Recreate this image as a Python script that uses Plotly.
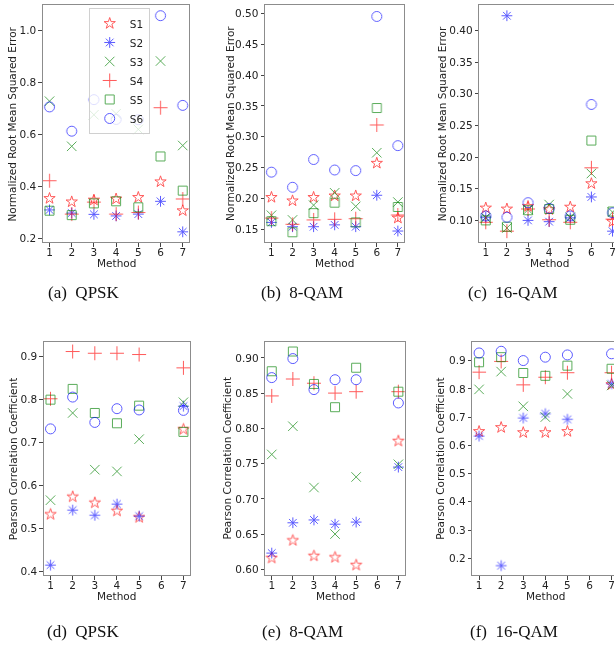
import plotly.graph_objects as go

W, H = 616, 657

methods = [1, 2, 3, 4, 5, 6, 7]
series_names = ["S1", "S2", "S3", "S4", "S5", "S6"]

# Normalized RMSE, rows = S1..S6, columns = methods 1..7
nrmse_qpsk = [
    [0.354, 0.341, 0.348, 0.352, 0.358, 0.418, 0.307],
    [0.310, 0.298, 0.293, 0.287, 0.294, 0.343, 0.226],
    [0.727, 0.554, 0.675, 0.679, 0.619, 0.881, 0.557],
    [0.422, 0.294, 0.340, 0.294, 0.300, 0.702, 0.352],
    [0.307, 0.290, 0.335, 0.343, 0.320, 0.515, 0.384],
    [0.705, 0.612, 0.733, 0.657, 0.656, 1.055, 0.711],
]
nrmse_8qam = [
    [0.2016, 0.196, 0.2016, 0.204, 0.204, 0.257, 0.168],
    [0.161, 0.154, 0.154, 0.157, 0.154, 0.205, 0.147],
    [0.1726, 0.165, 0.189, 0.209, 0.187, 0.274, 0.194],
    [0.168, 0.158, 0.165, 0.166, 0.167, 0.319, 0.173],
    [0.163, 0.145, 0.176, 0.193, 0.161, 0.3465, 0.186],
    [0.2425, 0.218, 0.263, 0.246, 0.245, 0.495, 0.2855],
]
nrmse_16qam = [
    [0.1196, 0.118, 0.122, 0.117, 0.121, 0.158, 0.098],
    [0.105, 0.423, 0.100, 0.098, 0.104, 0.137, 0.083],
    [0.104, 0.088, 0.117, 0.125, 0.105, 0.174, 0.113],
    [0.097, 0.083, 0.118, 0.101, 0.097, 0.183, 0.102],
    [0.100, 0.090, 0.116, 0.118, 0.101, 0.226, 0.114],
    [0.107, 0.105, 0.128, 0.119, 0.107, 0.283, 0.112],
]
# Pearson correlation coefficient (method 6 has no value)
pcc_qpsk = [
    [0.533, 0.574, 0.560, 0.541, 0.526, None, 0.731],
    [0.415, 0.543, 0.531, 0.557, 0.529, None, 0.785],
    [0.566, 0.769, 0.637, 0.633, 0.708, None, 0.794],
    [0.802, 0.912, 0.908, 0.908, 0.905, None, 0.874],
    [0.800, 0.825, 0.769, 0.745, 0.786, None, 0.725],
    [0.732, 0.806, 0.747, 0.779, 0.776, None, 0.775],
]
pcc_8qam = [
    [0.616, 0.641, 0.619, 0.617, 0.606, None, 0.782],
    [0.623, 0.666, 0.670, 0.664, 0.667, None, 0.745],
    [0.763, 0.803, 0.716, 0.650, 0.731, None, 0.749],
    [0.846, 0.870, 0.864, 0.850, 0.852, None, 0.852],
    [0.881, 0.909, 0.863, 0.830, 0.886, None, 0.852],
    [0.872, 0.899, 0.855, 0.869, 0.869, None, 0.836],
]
pcc_16qam = [
    [0.649, 0.663, 0.645, 0.645, 0.649, None, 0.815],
    [0.633, 0.174, 0.697, 0.712, 0.692, None, 0.818],
    [0.798, 0.861, 0.738, 0.700, 0.782, None, 0.812],
    [0.859, 0.897, 0.814, 0.841, 0.857, None, 0.857],
    [0.894, 0.912, 0.856, 0.846, 0.882, None, 0.871],
    [0.927, 0.933, 0.900, 0.912, 0.920, None, 0.924],
]

captions = ["(a)\u2002QPSK", "(b)\u20028-QAM", "(c)\u200216-QAM",
            "(d)\u2002QPSK", "(e)\u20028-QAM", "(f)\u200216-QAM"]
ylabel_nrmse = "Normalized Root Mean Squared Error"
ylabel_pcc = "Pearson Correlation Coefficient"

# marker style per series
symbols = ["star-open", "asterisk-open", "x-thin-open", "cross-thin-open",
           "square-open", "circle-open"]
colors = ["#ff0000", "#0000ff", "#008000", "#ff0000", "#008000", "#0000ff"]
sizes = [8.5, 9, 9.5, 10, 9, 10]

# panel geometry in pixels: (left, right, top, bottom), x range, y range, y ticks
panels = [
    dict(data=nrmse_qpsk, px=(43, 190, 5, 243), xr=[0.7, 7.3], yr=[0.186, 1.096],
         yt=[0.2, 0.4, 0.6, 0.8, 1.0], fmt="{:.1f}", ylab=ylabel_nrmse, ylx=12),
    dict(data=nrmse_8qam, px=(266, 405.5, 5, 243), xr=[0.7, 7.3], yr=[0.1288, 0.5136],
         yt=[0.15, 0.20, 0.25, 0.30, 0.35, 0.40, 0.45, 0.50], fmt="{:.2f}", ylab=ylabel_nrmse, ylx=230),
    dict(data=nrmse_16qam, px=(481, 616, 5, 243), xr=[0.7, 7.07], yr=[0.0655, 0.44],
         yt=[0.10, 0.15, 0.20, 0.25, 0.30, 0.35, 0.40], fmt="{:.2f}", ylab=ylabel_nrmse, ylx=443),
    dict(data=pcc_qpsk, px=(44, 190.7, 342.7, 576.7), xr=[0.7, 7.3], yr=[0.392, 0.935],
         yt=[0.4, 0.5, 0.6, 0.7, 0.8, 0.9], fmt="{:.1f}", ylab=ylabel_pcc, ylx=13),
    dict(data=pcc_8qam, px=(266.3, 406, 342.7, 576.7), xr=[0.7, 7.3], yr=[0.592, 0.923],
         yt=[0.60, 0.65, 0.70, 0.75, 0.80, 0.85, 0.90], fmt="{:.2f}", ylab=ylabel_pcc, ylx=228),
    dict(data=pcc_16qam, px=(474, 616, 342.7, 576.7), xr=[0.7, 7.11], yr=[0.141, 0.967],
         yt=[0.2, 0.3, 0.4, 0.5, 0.6, 0.7, 0.8, 0.9], fmt="{:.1f}", ylab=ylabel_pcc, ylx=442),
]
caption_pos = [(84, 293), (303, 293), (515, 293), (84, 633), (303, 633), (516, 633)]

tick_font = dict(family="DejaVu Sans", size=10.5, color="#222222")
label_font = dict(family="DejaVu Sans", size=10.5, color="#222222")
frame = "#8c8c8c"

fig = go.Figure()
layout = dict(width=W, height=H, margin=dict(l=0, r=0, t=0, b=0),
              paper_bgcolor="white", plot_bgcolor="white", showlegend=True)
annotations = []

for i, p in enumerate(panels):
    k = "" if i == 0 else str(i + 1)
    l, r, t, b = p["px"]
    clipped = r >= W
    layout["xaxis" + k] = dict(
        domain=[l / W, min(r / W, 1.0)], range=p["xr"], anchor="y" + k,
        tickvals=methods, ticktext=[str(m) for m in methods],
        showgrid=False, zeroline=False, showline=True, linecolor=frame, linewidth=1.2,
        mirror=True, ticks="outside", ticklen=3.5, tickcolor="#444444", tickwidth=1,
        tickfont=tick_font, ticklabelstandoff=-3, ticklabeloverflow="allow",
        fixedrange=True,
    )
    layout["yaxis" + k] = dict(
        domain=[1 - b / H, 1 - t / H], range=p["yr"], anchor="x" + k,
        tickvals=p["yt"], ticktext=[p["fmt"].format(v) for v in p["yt"]],
        showgrid=False, zeroline=False, showline=True, linecolor=frame, linewidth=1.2,
        mirror=not clipped, ticks="outside", ticklen=3.5, tickcolor="#444444", tickwidth=1,
        tickfont=tick_font, fixedrange=True,
    )
    for s, name in enumerate(series_names):
        fig.add_trace(go.Scatter(
            x=methods, y=p["data"][s], mode="markers", name=name,
            xaxis="x" + k, yaxis="y" + k, showlegend=(i == 0), opacity=0.65,
            cliponaxis=True,
            marker=dict(symbol=symbols[s], size=sizes[s], color=colors[s],
                        line=dict(width=1, color=colors[s])),
        ))
    # y-axis title
    annotations.append(dict(
        text=p["ylab"], x=p["ylx"] / W, y=1 - (t + b) / 2 / H, xref="paper", yref="paper",
        textangle=-90, showarrow=False, xanchor="center", yanchor="middle", font=label_font,
    ))
    # x-axis title, centred on method 4
    x0, x1 = p["xr"]
    xc = l + (4 - x0) / (x1 - x0) * (min(r, W) - l)
    annotations.append(dict(
        text="Method", x=xc / W, y=1 - (b + 21) / H, xref="paper", yref="paper",
        showarrow=False, xanchor="center", yanchor="middle", font=label_font,
    ))
    cx, cy = caption_pos[i]
    annotations.append(dict(
        text=captions[i], x=cx / W, y=1 - cy / H, xref="paper", yref="paper",
        showarrow=False, xanchor="center", yanchor="middle",
        font=dict(family="Liberation Serif", size=17, color="#111111"),
    ))

layout["annotations"] = annotations
layout["legend"] = dict(
    x=89 / W, y=1 - 8 / H, xanchor="left", yanchor="top",
    bgcolor="rgba(255,255,255,0.8)", bordercolor="#d0d0d0", borderwidth=1,
    font=dict(family="DejaVu Sans", size=10.5, color="#222222"),
    itemwidth=30, tracegroupgap=0,
)
fig.update_layout(**layout)
fig.write_html("out.html", config={"displayModeBar": False})
